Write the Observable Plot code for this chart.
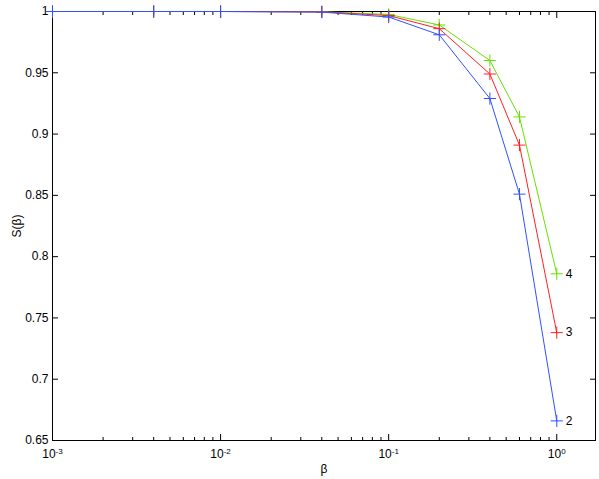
<!DOCTYPE html>
<html><head><meta charset="utf-8">
<script src="https://cdn.jsdelivr.net/npm/d3@7"></script>
<script src="https://cdn.jsdelivr.net/npm/@observablehq/plot@0.6"></script>
<style>body{margin:0;background:#fff}</style>
</head><body><div id="chart"></div>
<script>
const beta = [0.001, 0.004, 0.01, 0.04, 0.1, 0.2, 0.4, 0.6, 1.0];
const s2 = [1, 1, 1, 0.9995, 0.9955, 0.981, 0.929, 0.851, 0.666];
const s3 = [1, 1, 1, 0.9997, 0.9967, 0.986, 0.949, 0.891, 0.738];
const s4 = [1, 1, 1, 0.9998, 0.9976, 0.989, 0.960, 0.914, 0.786];
const seriesNames = ["2", "3", "4"];
const seriesColors = ["#3050ff", "#ff2020", "#66e000"];
const xMajorTicks = [0.001, 0.01, 0.1, 1];
const yTicks = [0.65, 0.7, 0.75, 0.8, 0.85, 0.9, 0.95, 1];

// draw order: 4 first, 2 last (blue on top)
const rows = [];
[[s4, 2], [s3, 1], [s2, 0]].forEach(([vals, i]) => vals.forEach((v, j) => rows.push({beta: beta[j], s: v, k: seriesNames[i]})));
const ends = [s2, s3, s4].map((vals, i) => ({beta: beta[beta.length - 1], s: vals[vals.length - 1], k: seriesNames[i]}));

const xMinor = [];
for (const d of [0.001, 0.01, 0.1]) for (let m = 2; m <= 9; m++) xMinor.push(d * m);

const chart = Plot.plot({
  width: 599, height: 479,
  marginLeft: 52, marginRight: 4, marginTop: 11, marginBottom: 39,
  style: {fontFamily: "Liberation Sans, Arial, sans-serif", fontSize: "12px", background: "white", color: "black"},
  x: {type: "log", domain: [0.001, 1.7]},
  y: {domain: [0.65, 1]},
  color: {domain: seriesNames, range: seriesColors},
  marks: [
    Plot.frame({stroke: "black"}),
    Plot.axisX(xMajorTicks, {anchor: "bottom", tickSize: -6, tickFormat: () => "", label: null}),
    Plot.axisX(xMinor, {anchor: "bottom", tickSize: -3, tickFormat: () => "", label: null}),
    Plot.axisX(xMajorTicks, {anchor: "top", tickSize: -6, tickFormat: () => "", label: null}),
    Plot.axisX(xMinor, {anchor: "top", tickSize: -3, tickFormat: () => "", label: null}),
    Plot.axisX(xMajorTicks, {anchor: "bottom", tickSize: 0, tickPadding: 9, tickFormat: d => String(Math.round(Math.log10(d))), label: "β", labelAnchor: "center", labelOffset: 32, labelArrow: "none"}),
    Plot.axisY(yTicks, {anchor: "left", tickSize: -6, tickFormat: () => "", label: null}),
    Plot.axisY(yTicks, {anchor: "right", tickSize: -6, tickFormat: () => "", label: null}),
    Plot.axisY(yTicks, {anchor: "left", tickSize: 0, tickPadding: 4, tickFormat: d => String(d), label: "S(β)", labelAnchor: "center", labelOffset: 40, labelArrow: "none"}),
    Plot.line(rows, {x: "beta", y: "s", z: "k", stroke: "k", strokeWidth: 1}),
    Plot.dot(rows, {x: "beta", y: "s", stroke: "k", symbol: "plus", r: 4, strokeWidth: 1}),
    Plot.text(ends, {x: "beta", y: "s", text: "k", dx: 9, textAnchor: "start", fontSize: 12})
  ]
});
document.getElementById("chart").appendChild(chart);

d3.select(chart).selectAll('g[aria-label="x-axis tick label"] text').each(function () {
  const e = this.textContent;
  if (!e) return;
  const t = d3.select(this);
  t.text(null);
  t.append("tspan").text("10");
  t.append("tspan").attr("dy", "-0.5em").attr("font-size", "8px").text(e);
});
</script>
</body></html>
